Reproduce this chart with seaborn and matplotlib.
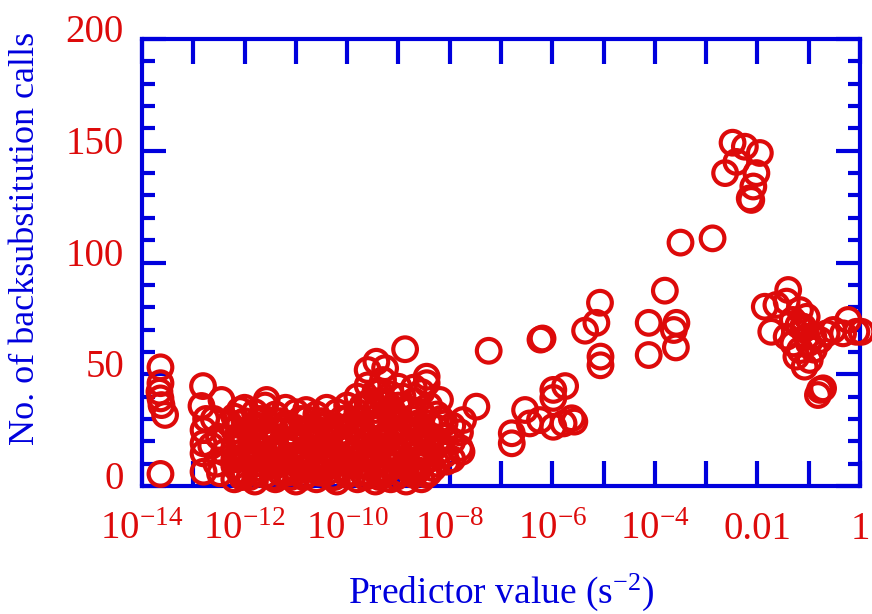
import numpy as np
import pandas as pd
import matplotlib
matplotlib.use("Agg")
import matplotlib.pyplot as plt
from matplotlib.transforms import ScaledTranslation
import seaborn as sns

# ---- data (log10 of predictor value, number of backsubstitution calls) ----
left_logx = [-13.64, -13.64, -13.66, -13.64, -13.62, -13.55, -13.64,
             -12.81, -12.84, -12.45, -12.80, -12.80, -12.80, -12.80, -12.48,
             -12.09, -11.57, -12.09, -12.60, -12.50, -12.40, -12.55, -12.30,
             -12.20, -12.75, -12.65]
left_calls = [53.1, 46.0, 42.2, 39.2, 36.2, 31.8, 5.4,
              44.7, 35.8, 38.5, 25.0, 19.1, 14.6, 6.4, 5.7,
              34.0, 38.5, 5.8, 30.0, 22.0, 15.0, 10.0, 28.0,
              12.0, 30.0, 18.0]

dense_logx = [
    -12.2, -12.2, -12.2, -12.2, -12.2,
    -12.0, -12.0, -12.0, -12.0, -12.0,
    -11.8, -11.8, -11.8, -11.8, -11.8,
    -11.6, -11.6, -11.6, -11.6, -11.6,
    -11.4, -11.4, -11.4, -11.4, -11.4,
    -11.2, -11.2, -11.2, -11.2, -11.2,
    -11.0, -11.0, -11.0, -11.0, -11.0,
    -10.8, -10.8, -10.8, -10.8, -10.8,
    -10.6, -10.6, -10.6, -10.6, -10.6,
    -10.4, -10.4, -10.4, -10.4, -10.4,
    -10.2, -10.2, -10.2, -10.2, -10.2,
    -10.0, -10.0, -10.0, -10.0, -10.0,
    -9.8, -9.8, -9.8, -9.8, -9.8, -9.8,
    -9.6, -9.6, -9.6, -9.6, -9.6, -9.6, -9.6,
    -9.45, -9.45, -9.45, -9.45, -9.45, -9.45, -9.43,
    -9.3, -9.3, -9.3, -9.3, -9.3, -9.3, -9.26,
    -9.15, -9.15, -9.15, -9.15, -9.15, -9.15,
    -9.0, -9.0, -9.0, -9.0, -9.0, -9.0,
    -8.85, -8.85, -8.85, -8.85, -8.85, -8.87,
    -8.7, -8.7, -8.7, -8.7, -8.7, -8.7,
    -8.55, -8.55, -8.55, -8.55, -8.55, -8.55,
    -8.45, -8.45,
    -8.4, -8.4, -8.4, -8.4, -8.4,
    -8.25, -8.25, -8.25, -8.25,
    -8.1, -8.1, -8.1, -8.19,
    -7.95, -7.95, -7.95,
    -7.8, -7.8,
    -7.74, -7.77, -8.06, -7.48,
]
dense_calls = [
    3, 9, 17, 25, 31,
    6, 13, 21, 29, 35,
    2, 10, 18, 26, 33,
    5, 14, 22, 30, 36,
    3, 9, 17, 25, 32,
    6, 12, 20, 28, 35,
    2, 10, 18, 26, 33,
    5, 14, 22, 30, 34,
    3, 9, 17, 25, 32,
    6, 12, 20, 28, 35,
    2, 10, 18, 26, 33,
    5, 14, 22, 30, 36,
    3, 9, 17, 25, 33, 40,
    6, 12, 20, 28, 37, 45, 51.9,
    2, 10, 18, 26, 34, 42, 55.6,
    5, 14, 22, 30, 38, 47.4, 52.7,
    3, 9, 17, 25, 33, 41,
    6, 12, 20, 28, 36, 44.4,
    2, 10, 18, 26, 34, 61.2,
    5, 14, 22, 30, 38, 44,
    3, 9, 17, 25, 33, 42,
    48.9, 46,
    6, 12, 20, 28, 36,
    10, 18, 26, 32,
    14, 22, 28, 38.5,
    12, 20, 27,
    17, 24,
    29.5, 15.3, 10.9, 35.5,
]

# further, interleaved layers of the dense cloud
fill_logx = [
    -12.1, -12.1, -12.1, -11.9, -11.9, -11.9, -11.7, -11.7, -11.7,
    -11.5, -11.5, -11.5, -11.3, -11.3, -11.3, -11.1, -11.1, -11.1,
    -10.9, -10.9, -10.9, -10.7, -10.7, -10.7, -10.5, -10.5, -10.5,
    -10.3, -10.3, -10.3, -10.1, -10.1, -10.1, -9.9, -9.9, -9.9,
    -9.7, -9.7, -9.7, -9.7, -9.52, -9.52, -9.52, -9.52, -9.37, -9.37, -9.37, -9.37,
    -9.22, -9.22, -9.22, -9.07, -9.07, -9.07, -8.92, -8.92, -8.92,
    -8.77, -8.77, -8.77, -8.62, -8.62, -8.62, -8.47, -8.47, -8.32, -8.32, -8.17, -8.17,
    -12.15, -11.85, -11.55, -11.25, -10.95, -10.65, -10.35, -10.05, -9.75,
    -12.15, -11.85, -11.55, -11.25, -10.95, -10.65, -10.35, -10.05, -9.75,
    -12.05, -11.75, -11.45, -11.15, -10.85, -10.55, -10.25, -9.95, -9.65,
    -9.35, -9.05, -8.75, -8.45,
    -12.05, -11.75, -11.45, -11.15, -10.85, -10.55, -10.25, -9.95, -9.65,
    -9.35, -9.05, -8.75, -8.45,
]
fill_calls = [
    7, 20, 28, 4, 16, 24, 8, 14, 30,
    10, 19, 27, 6, 14, 29, 4, 16, 24,
    8, 13, 30, 10, 19, 26, 6, 14, 29,
    4, 16, 24, 8, 13, 30, 10, 19, 27,
    6, 14, 22, 36, 8, 16, 30, 38, 4, 18, 26, 42,
    7, 21, 37, 9, 16, 32, 6, 22, 40,
    8, 18, 34, 7, 20, 28, 14, 24, 8, 22, 16, 30,
    12, 22, 11, 21, 12, 23, 11, 21, 12,
    22, 12, 23, 11, 21, 12, 23, 11, 24,
    15, 27, 15, 27, 15, 27, 15, 27, 15,
    27, 15, 27, 19,
    4, 6, 4, 6, 4, 6, 4, 6, 4,
    6, 4, 6, 5,
]

mid_logx = [-7.24, -6.53, -6.79, -6.79, -6.44, -6.24, -6.19, -6.23,
            -5.98, -5.75, -5.98, -5.98, -5.62, -5.57, -5.78,
            -5.07, -5.14, -5.36, -5.06, -5.06,
            -4.12, -3.58, -3.63, -3.59, -4.12, -3.805]
mid_calls = [60.5, 34.0, 23.6, 19.1, 28.0, 29.5, 66.0, 65.5,
             43.0, 44.7, 39.4, 26.5, 30.3, 28.8, 28.0,
             82.0, 73.0, 69.5, 57.9, 54.0,
             73.0, 73.0, 69.8, 62.0, 58.6, 87.4]

top_logx = [-3.50, -2.875, -2.485, -2.245, -1.953, -2.63, -2.41, -2.02,
            -2.08, -2.15, -2.12]
top_calls = [108.9, 110.8, 153.6, 151.8, 149.0, 140.0, 145.0, 140.0,
             134.0, 128.7, 128.0]

right_logx = [-1.40, -1.856, -1.63, -1.43, -1.17, -1.04, -1.73, -1.43,
              -1.30, -1.17, -1.24, -0.98, -1.08, -0.78, -0.82, -0.72,
              -0.52, -0.23, -0.07, -0.33, -0.91, -0.78, -1.11, -1.31,
              -1.04, -0.65, 0.03, -1.20, -1.10, -1.00, -0.90]
right_calls = [87.7, 80.2, 81.0, 82.5, 78.7, 75.7, 69.0, 66.8,
               63.8, 60.8, 57.9, 56.4, 53.4, 43.0, 40.7, 43.7,
               69.8, 74.3, 69.0, 68.3, 66.8, 65.3, 71.3, 74.3,
               66.8, 68.3, 69.0, 72.0, 70.0, 64.0, 61.0]

xtick_exponents = list(range(-14, 1))
xtick_labels = ["10$^{-14}$", "", "10$^{-12}$", "", "10$^{-10}$", "", "10$^{-8}$", "",
                "10$^{-6}$", "", "10$^{-4}$", "", "0.01", "", "1"]
ytick_major = [0, 50, 100, 150, 200]

# ---- build frame ----
logx = left_logx + dense_logx + fill_logx + mid_logx + top_logx + right_logx
calls = left_calls + dense_calls + fill_calls + mid_calls + top_calls + right_calls
df = pd.DataFrame({"predictor": 10.0 ** np.array(logx, dtype=float),
                   "calls": np.array(calls, dtype=float)})

RED = "#DD0A0A"
BLUE = "#0000DD"

sns.set_theme(style="white")
plt.rcParams["font.family"] = ["Liberation Serif", "DejaVu Serif"]
plt.rcParams["mathtext.fontset"] = "custom"
plt.rcParams["mathtext.rm"] = "Liberation Serif"
plt.rcParams["mathtext.it"] = "Liberation Serif:italic"
plt.rcParams["mathtext.bf"] = "Liberation Serif:bold"

fig = plt.figure(figsize=(8.72, 6.14), dpi=100)
ax = fig.add_axes([142 / 872, 1 - 486 / 614, (860 - 142) / 872, (486 - 39) / 614])

sns.scatterplot(data=df, x="predictor", y="calls", ax=ax, marker="o", s=290,
                facecolor="none", edgecolor=RED, linewidth=3.0, clip_on=False,
                zorder=5, legend=False)

ax.set_xscale("log")
ax.set_xlim(1e-14, 1)
ax.set_ylim(0, 200)

ax.set_xticks([10.0 ** e for e in xtick_exponents])
ax.set_xticklabels(xtick_labels)
ax.xaxis.set_minor_locator(matplotlib.ticker.NullLocator())
ax.set_yticks(ytick_major)
ax.set_yticks(np.arange(0, 201, 10), minor=True)

for sp in ax.spines.values():
    sp.set_color(BLUE)
    sp.set_linewidth(3.0)
    sp.set_visible(True)

ax.tick_params(axis="x", which="major", direction="in", length=18, width=3,
               color=BLUE, top=True, bottom=True, labelcolor=RED,
               labelsize=28, pad=18)
ax.tick_params(axis="y", which="major", direction="in", length=17, width=3,
               color=BLUE, left=True, right=True, labelcolor=RED,
               labelsize=28, pad=13)
ax.tick_params(axis="y", which="minor", direction="in", length=9, width=3,
               color=BLUE, left=True, right=True)

shift = ScaledTranslation(0, 11 / 100, fig.dpi_scale_trans)
for lab in ax.get_yticklabels():
    lab.set_transform(lab.get_transform() + shift)

ax.set_xlabel("Predictor value (s$^{-2}$)", color=BLUE, fontsize=27, labelpad=17)
ax.set_ylabel("No. of backsubstitution calls", color=BLUE, fontsize=26)
ax.yaxis.set_label_coords(-0.139, 0.553)
ax.grid(False)

fig.savefig("out.png", dpi=100)
